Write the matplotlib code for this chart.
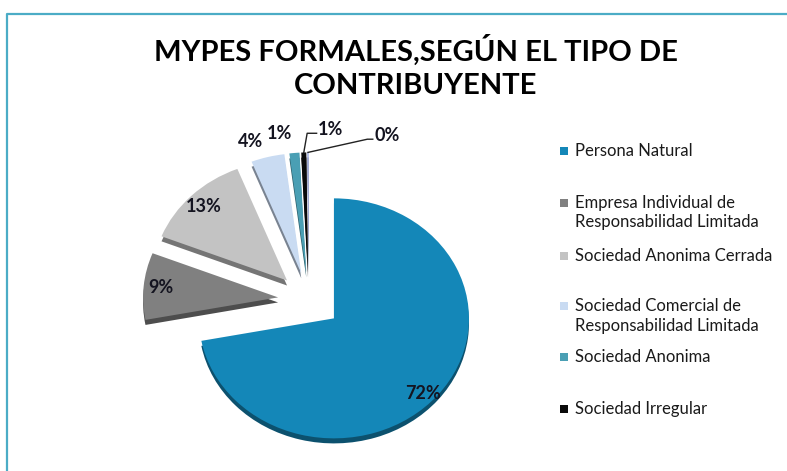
import matplotlib
matplotlib.use('Agg')
import matplotlib.pyplot as plt
from matplotlib.lines import Line2D
from matplotlib.patches import Rectangle
import matplotlib.colors as mcolors
import numpy as np

# ---- data ----
categories = ['Persona Natural',
              'Empresa Individual de\nResponsabilidad Limitada',
              'Sociedad Anonima Cerrada',
              'Sociedad Comercial de\nResponsabilidad Limitada',
              'Sociedad Anonima',
              'Sociedad Irregular',
              'Otros']
values = [72.0, 9.0, 13.0, 4.0, 1.2, 0.6, 0.2]
colors = ['#1487b8', '#808080', '#c3c3c3', '#c9dbf2', '#4a9fb4', '#0a0a0a', '#aab4e0']
legend_count = 6
title_lines = ['MYPES FORMALES,SEGÚN EL TIPO DE', 'CONTRIBUYENTE']

W, H = 787, 471
fig = plt.figure(figsize=(W / 100, H / 100), dpi=100)
fig.patch.set_facecolor('white')

# frame of the chart area (cropped)
fig.add_artist(Line2D([7 / W, 7 / W, 1.0], [0.0, 1 - 14 / H, 1 - 14 / H],
                      color='#4bacc6', lw=1.6, transform=fig.transFigure))

# ---- pie axes (elliptical pie) ----
cx, cy, rx, ry = 309, 300, 135, 120
xl, xr, yb, yt = -1.6, 1.6, -1.3, 1.6
ax = fig.add_axes([(cx + xl * rx) / W, (H - cy + yb * ry) / H,
                   (xr - xl) * rx / W, (yt - yb) * ry / H])

explode = [0.24] + [0.23] * (len(values) - 1)
dark = [tuple(np.array(mcolors.to_rgb(c)) * 0.6) for c in colors]

ax.pie(values, colors=dark, explode=explode, startangle=90, counterclock=False,
       center=(0, -0.042), wedgeprops=dict(linewidth=0))
wedges, _ = ax.pie(values, colors=colors, explode=explode, startangle=90,
                   counterclock=False, wedgeprops=dict(linewidth=0))
ax.set_aspect('auto')
ax.set_xlim(xl, xr)
ax.set_ylim(yb, yt)
ax.axis('off')

total = sum(values)
pcts = [f"{int(v / total * 100 + 0.5)}%" for v in values]
lab_font = dict(family='Lato', weight='bold', size=13, color='#141420')

for i, w in enumerate(wedges):
    mid = np.deg2rad((w.theta1 + w.theta2) / 2)
    c0 = np.array(w.center)
    d = np.array([np.cos(mid), np.sin(mid)])
    if i == 0:
        p = c0 + 0.82 * d + np.array([0.03, -0.1])
        ax.text(p[0], p[1], pcts[i], ha='center', va='center', **lab_font)
    elif i in (1, 2):
        p = c0 + 0.87 * d
        ax.text(p[0], p[1], pcts[i], ha='center', va='center', **lab_font)
    elif i in (3, 4):
        r = 1.13 if i == 3 else 1.16
        p = c0 + r * d
        ax.text(p[0] - 0.0, p[1], pcts[i], ha='right', va='center', **lab_font)
    elif i == 5:
        tip = c0 + d
        elbow = tip + np.array([0.025, 0.16])
        end = elbow + np.array([0.07, 0.0])
        ax.plot([tip[0], elbow[0], end[0]], [tip[1], elbow[1], end[1]],
                color='#222222', lw=1)
        ax.text(end[0] + 0.01, elbow[1] + 0.03, pcts[i], ha='left', va='center', **lab_font)
    else:
        tip = c0 + d
        elbow = tip + np.array([0.44, 0.11])
        end = elbow + np.array([0.04, 0.0])
        ax.plot([tip[0], elbow[0], end[0]], [tip[1], elbow[1], end[1]],
                color='#222222', lw=1)
        ax.text(end[0] + 0.01, elbow[1] + 0.03, pcts[i], ha='left', va='center', **lab_font)

# ---- title ----
for j, t in enumerate(title_lines):
    fig.text(416 / W, 1 - (50 + 36 * j) / H, t, ha='center', va='center',
             family='Lato', weight='bold', size=21, color='black')

# ---- legend (manual) ----
leg_text_y = [151, 212.5, 256, 316, 357, 409]
leg_box_y = [151, 203, 256, 306, 357, 409]
for k in range(legend_count):
    fig.add_artist(Rectangle((560 / W, 1 - (leg_box_y[k] + 4) / H), 8 / W, 8 / H,
                             transform=fig.transFigure, facecolor=colors[k],
                             edgecolor='none'))
    fig.text(575 / W, 1 - leg_text_y[k] / H, categories[k], ha='left', va='center',
             family='Lato', size=12, color='#1a1a1a', linespacing=1.3)

fig.savefig('out.png', dpi=100, facecolor='white')
